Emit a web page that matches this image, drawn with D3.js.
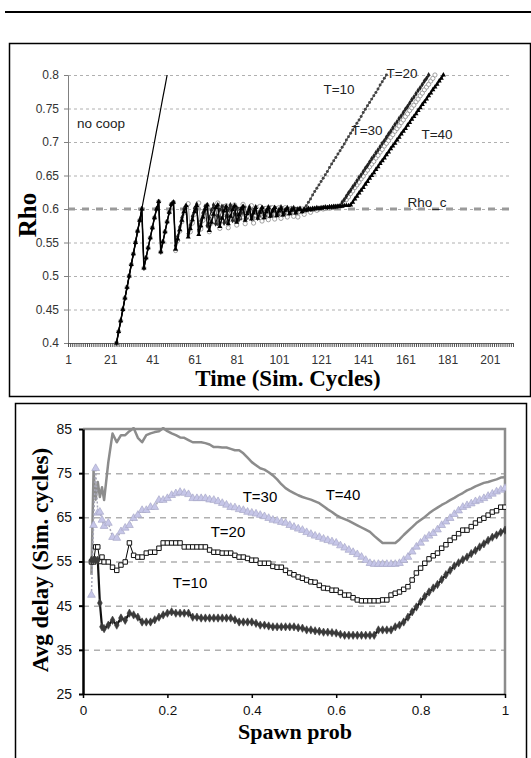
<!DOCTYPE html>
<html><head><meta charset="utf-8">
<script src="https://cdn.jsdelivr.net/npm/d3@7"></script>
<style>body{margin:0;background:#fff} svg{display:block}</style>
</head><body>
<svg id="c" width="531" height="758"></svg>
<script>
// ---------------- DATA: top chart (Rho vs Time) ----------------
const rhoTicks = [0.4,0.45,0.5,0.55,0.6,0.65,0.7,0.75,0.8];
const timeTickLabels = [1,21,41,61,81,101,121,141,161,181,201];
const timeMax = 212;
const rhoC = 0.6;
const firstCycle = 24;
// cycles 24..36 (shared by every run)
const rampShared = [0.400,0.417,0.433,0.450,0.467,0.483,0.500,0.517,0.533,0.550,0.567,0.583,0.600];
// no cooperation, cycles 37..48
const noCoopTail = [0.617,0.633,0.650,0.667,0.683,0.700,0.717,0.733,0.750,0.767,0.783,0.800];
// cooperative runs, cycles 37..51
const coopShared = [0.512,0.527,0.542,0.557,0.572,0.587,0.600,0.611,0.536,0.551,0.566,0.581,0.595,0.607,0.610];
// cycles 52..
const rhoT10Tail = [
0.541,0.556,0.570,0.584,0.597,0.606,0.560,0.572,0.585,0.597,
0.604,0.566,0.578,0.590,0.601,0.607,0.572,0.583,0.594,0.603,
0.577,0.588,0.598,0.605,0.580,0.590,0.600,0.604,0.582,0.592,
0.601,0.585,0.595,0.603,0.586,0.595,0.602,0.587,0.596,0.603,
0.589,0.597,0.602,0.589,0.597,0.603,0.590,0.598,0.602,0.591,
0.598,0.602,0.592,0.599,0.601,0.593,0.599,0.601,0.595,0.600,
0.598,0.601,0.605,0.610,0.615,0.621,0.626,0.631,0.636,0.641,
0.646,0.651,0.656,0.662,0.667,0.672,0.677,0.682,0.687,0.692,
0.697,0.703,0.708,0.713,0.718,0.723,0.728,0.733,0.738,0.744,
0.749,0.754,0.759,0.764,0.769,0.774,0.779,0.785,0.790,0.795,
0.800];
const rhoT20Tail = [
0.545,0.559,0.573,0.587,0.600,0.604,0.563,0.576,0.589,0.601,
0.607,0.569,0.582,0.594,0.604,0.575,0.587,0.598,0.606,0.578,
0.589,0.599,0.604,0.579,0.589,0.599,0.606,0.583,0.593,0.602,
0.584,0.594,0.603,0.585,0.595,0.603,0.588,0.597,0.603,0.587,
0.596,0.602,0.590,0.598,0.603,0.591,0.598,0.602,0.592,0.599,
0.603,0.593,0.599,0.602,0.594,0.600,0.602,0.595,0.600,0.601,
0.597,0.600,0.599,0.601,0.600,0.601,0.601,0.602,0.601,0.602,
0.602,0.603,0.602,0.603,0.603,0.604,0.604,0.604,0.605,0.610,
0.614,0.619,0.624,0.628,0.633,0.637,0.642,0.647,0.651,0.656,
0.661,0.665,0.670,0.675,0.679,0.684,0.688,0.693,0.698,0.702,
0.707,0.712,0.716,0.721,0.726,0.730,0.735,0.739,0.744,0.749,
0.753,0.758,0.763,0.767,0.772,0.777,0.781,0.786,0.791,0.795,
0.800];
const rhoT30Tail = [
0.538,0.553,0.567,0.581,0.594,0.603,0.608,0.566,0.579,0.592,
0.603,0.609,0.570,0.583,0.595,0.605,0.566,0.579,0.591,0.602,
0.609,0.571,0.583,0.595,0.605,0.572,0.585,0.597,0.606,0.576,
0.588,0.599,0.607,0.578,0.590,0.600,0.605,0.579,0.591,0.601,
0.604,0.582,0.593,0.601,0.584,0.594,0.602,0.585,0.595,0.602,
0.586,0.596,0.602,0.588,0.597,0.601,0.589,0.597,0.588,0.596,
0.600,0.592,0.598,0.600,0.595,0.599,0.600,0.598,0.600,0.601,
0.600,0.601,0.602,0.601,0.602,0.603,0.603,0.603,0.604,0.605,
0.609,0.614,0.618,0.623,0.627,0.632,0.636,0.640,0.645,0.649,
0.654,0.658,0.663,0.667,0.671,0.676,0.680,0.685,0.689,0.694,
0.698,0.702,0.707,0.711,0.716,0.720,0.724,0.729,0.733,0.738,
0.742,0.747,0.751,0.755,0.760,0.764,0.769,0.773,0.778,0.782,
0.786,0.791,0.795,0.800];
const rhoT40Tail = [
0.540,0.555,0.569,0.583,0.596,0.605,0.558,0.571,0.584,0.596,
0.605,0.562,0.575,0.588,0.600,0.606,0.568,0.580,0.592,0.602,
0.606,0.574,0.586,0.597,0.604,0.578,0.589,0.599,0.605,0.580,
0.591,0.600,0.604,0.583,0.593,0.601,0.585,0.594,0.602,0.586,
0.595,0.602,0.587,0.596,0.602,0.589,0.597,0.602,0.590,0.597,
0.601,0.591,0.598,0.601,0.593,0.598,0.600,0.594,0.599,0.600,
0.596,0.599,0.598,0.600,0.599,0.600,0.600,0.601,0.601,0.601,
0.602,0.602,0.602,0.603,0.603,0.603,0.603,0.604,0.604,0.604,
0.605,0.605,0.605,0.606,0.610,0.615,0.619,0.624,0.628,0.632,
0.637,0.641,0.646,0.650,0.654,0.659,0.663,0.668,0.672,0.676,
0.681,0.685,0.690,0.694,0.698,0.703,0.707,0.712,0.716,0.720,
0.725,0.729,0.734,0.738,0.742,0.747,0.751,0.756,0.760,0.764,
0.769,0.773,0.778,0.782,0.786,0.791,0.795,0.800];

// ---------------- DATA: bottom chart (Avg delay vs Spawn prob) ----------------
const delayTicks = [25,35,45,55,65,75,85];
const spawnTicks = [0,0.2,0.4,0.6,0.8,1];
const spawnProb = [
0.02,0.025,0.03,0.035,0.04,0.045,0.05,
0.06,0.07,0.08,0.09,0.10,0.11,0.12,0.13,0.14,0.15,
0.16,0.17,0.18,0.19,0.20,0.21,0.22,0.23,0.24,0.25,
0.26,0.27,0.28,0.29,0.30,0.31,0.32,0.33,0.34,0.35,
0.36,0.37,0.38,0.39,0.40,0.41,0.42,0.43,0.44,0.45,
0.46,0.47,0.48,0.49,0.50,0.51,0.52,0.53,0.54,0.55,
0.56,0.57,0.58,0.59,0.60,0.61,0.62,0.63,0.64,0.65,
0.66,0.67,0.68,0.69,0.70,0.71,0.72,0.73,0.74,0.75,
0.76,0.77,0.78,0.79,0.80,0.81,0.82,0.83,0.84,0.85,
0.86,0.87,0.88,0.89,0.90,0.91,0.92,0.93,0.94,0.95,
0.96,0.97,0.98,0.99,1.00];
const delayT10 = [
55.3,55.3,55.3,55.3,45.6,40.2,39.8,
40.6,41.7,40.6,42.2,41.7,43.3,42.9,42.4,41.3,41.3,
41.3,41.8,42.4,42.9,43.3,43.6,43.3,43.3,43.3,43.3,
42.4,42.4,42.2,42.2,42.2,42.2,42.2,42.2,42.2,42.2,
41.8,41.3,41.3,41.3,41.3,41.0,40.6,40.6,40.4,40.2,
40.2,40.2,40.2,40.2,40.2,40.0,39.9,39.5,39.5,39.3,
39.2,39.0,39.0,38.9,38.8,38.5,38.3,38.3,38.3,38.3,
38.3,38.3,38.3,38.3,39.5,39.5,39.5,39.5,40.2,40.6,
41.3,42.4,43.6,44.7,45.9,47.1,48.1,49.0,49.8,50.9,
52.0,53.0,54.0,54.7,55.4,56.0,56.8,57.5,58.3,59.0,
59.8,60.5,61.0,61.6,62.1];
const delayT20 = [
54.9,54.9,58.3,58.3,55.0,56.0,54.9,
54.9,53.7,53.0,54.2,54.9,59.2,56.4,56.0,56.0,56.9,
57.1,57.1,58.0,59.2,59.2,59.2,59.2,59.2,58.3,58.3,
58.3,58.3,58.3,58.3,57.6,57.1,57.1,56.9,56.9,56.9,
56.4,56.0,56.0,55.7,55.3,55.3,54.6,54.6,54.6,53.9,
53.7,53.7,53.0,52.4,52.0,51.5,51.2,50.8,50.4,50.3,
49.6,49.0,48.9,48.5,48.5,48.0,47.4,47.4,46.8,46.3,
46.1,46.1,46.1,46.1,46.1,46.3,46.3,47.4,47.8,48.1,
48.7,49.3,50.8,52.4,53.5,54.6,55.6,56.3,56.9,58.0,
58.8,59.8,60.4,61.3,62.1,62.1,62.9,63.7,64.4,64.8,
65.5,66.2,66.5,67.3,67.3];
const delayT30 = [
47.4,63.2,76.1,66.0,66.2,64.4,63.0,
63.7,60.5,60.3,61.8,62.6,63.2,64.8,65.5,66.6,66.6,
67.3,67.3,68.9,68.9,69.3,70.0,70.4,70.7,70.5,70.2,
69.3,69.3,69.3,69.3,69.0,68.9,68.6,68.2,67.8,67.3,
67.2,66.8,66.6,66.2,66.0,65.8,65.5,65.2,64.8,64.4,
64.2,63.9,63.7,63.2,62.8,62.4,62.1,61.6,61.2,60.8,
60.5,60.1,59.8,59.5,59.2,58.6,58.1,57.6,57.1,56.6,
56.0,55.3,54.6,54.4,54.4,54.4,54.4,54.4,54.4,54.6,
55.3,56.0,57.2,58.3,59.2,60.1,60.8,61.4,62.2,63.2,
64.0,64.8,65.7,66.5,67.3,67.7,68.1,68.6,68.9,69.3,
69.8,70.3,70.8,71.2,71.6];
const delayT40 = [
52.0,75.5,69.0,73.0,69.6,71.8,68.9,
77.5,84.0,82.0,83.6,83.6,84.5,85.2,83.0,82.0,83.6,
84.0,84.3,84.5,85.2,84.5,84.0,83.6,83.1,83.0,82.5,
82.0,82.0,82.0,81.8,81.5,80.9,80.9,80.8,80.8,80.5,
80.2,80.2,79.5,78.5,77.5,76.8,76.1,75.8,75.2,74.5,
73.6,72.5,71.6,71.0,70.5,70.0,69.6,69.3,69.0,68.6,
68.2,67.5,66.8,66.2,65.5,65.0,64.6,64.2,63.7,63.2,
62.7,62.2,61.7,60.8,60.0,59.2,59.2,59.2,59.2,60.0,
61.0,61.9,62.8,63.7,64.4,65.1,65.9,66.6,67.2,67.8,
68.3,68.9,69.4,70.0,70.5,71.1,71.5,72.0,72.4,72.8,
73.0,73.3,73.6,74.0,74.1];

// ---------------- DRAWING ----------------
const SANS = "'Liberation Sans', Arial, sans-serif";
const SERIF = "'Liberation Serif', 'Times New Roman', serif";
const svg = d3.select('#c');

svg.append('line').attr('x1',5).attr('x2',531).attr('y1',12).attr('y2',12)
  .attr('stroke','#000').attr('stroke-width',2);

// ===== top chart =====
svg.append('rect').attr('x',9.5).attr('y',43.5).attr('width',521).attr('height',353)
  .attr('fill','#fff').attr('stroke','#000').attr('stroke-width',1.5);

const tx = d3.scaleLinear().domain([1,timeMax]).range([68,513]);
const ty = d3.scaleLinear().domain([0.4,0.8]).range([343,75]);
const gT = svg.append('g');

// grid
gT.append('g').attr('transform','translate(68,0)')
  .call(d3.axisLeft(ty).tickValues(rhoTicks.slice(1)).tickSize(-444).tickFormat(''))
  .call(g=>{g.select('.domain').remove();
    g.selectAll('line').attr('stroke','#b0b0b0').attr('stroke-dasharray','3,3');});
// Rho_c
gT.append('line').attr('x1',tx(1)).attr('x2',tx(timeMax)).attr('y1',ty(rhoC)).attr('y2',ty(rhoC))
  .attr('stroke','#9a9a9a').attr('stroke-width',3).attr('stroke-dasharray','7,7');

// axes
gT.append('g').attr('transform','translate(68,0)')
  .call(d3.axisLeft(ty).tickValues(rhoTicks).tickSize(4).tickSizeOuter(0).tickPadding(5)
    .tickFormat(d=>String(+d.toFixed(2))))
  .call(g=>{g.select('.domain').attr('stroke','#808080');
    g.selectAll('line').attr('stroke','#808080');
    g.selectAll('text').attr('font-family',SANS).attr('font-size',12).attr('fill','#333');});
gT.append('g').attr('transform','translate(0,343)')
  .call(d3.axisBottom(tx).tickValues(d3.range(1,timeMax+1)).tickSize(4).tickSizeOuter(0).tickFormat(''))
  .call(g=>{g.select('.domain').attr('stroke','#606060');
    g.selectAll('line').attr('stroke','#505050');});
gT.append('g').attr('transform','translate(0,343)')
  .call(d3.axisBottom(tx).tickValues(timeTickLabels).tickSize(0).tickSizeOuter(0).tickPadding(12))
  .call(g=>{g.select('.domain').remove();
    g.selectAll('text').attr('font-family',SANS).attr('font-size',12).attr('fill','#333');});

const toPts = arr => arr.map((v,i)=>({t:firstCycle+i, v}));
const topSeries = [
  {name:'T=10', vals: rampShared.concat(coopShared, rhoT10Tail), stroke:'#555', sw:1,
   sym:d3.symbolCircle, size:7, fill:'#444', mstroke:'none'},
  {name:'T=30', vals: rampShared.concat(coopShared, rhoT30Tail), stroke:'#a8a8a8', sw:1,
   sym:d3.symbolCircle, size:14, fill:'#fff', mstroke:'#8a8a8a'},
  {name:'T=20', vals: rampShared.concat(coopShared, rhoT20Tail), stroke:'#1a1a1a', sw:1.1,
   sym:d3.symbolDiamond, size:10, fill:'#222', mstroke:'none'},
  {name:'T=40', vals: rampShared.concat(coopShared, rhoT40Tail), stroke:'#000', sw:1.5,
   sym:d3.symbolTriangle, size:11, fill:'#000', mstroke:'none'},
];
const tLine = d3.line().x(d=>tx(d.t)).y(d=>ty(d.v));
topSeries.forEach(s=>{
  const pts = toPts(s.vals);
  gT.append('path').datum(pts).attr('d',tLine).attr('fill','none')
    .attr('stroke',s.stroke).attr('stroke-width',s.sw);
  gT.append('g').selectAll('path').data(pts).join('path')
    .attr('transform',d=>`translate(${tx(d.t)},${ty(d.v)})`)
    .attr('d',d3.symbol().type(s.sym).size(s.size))
    .attr('fill',s.fill).attr('stroke',s.mstroke).attr('stroke-width',0.8);
});
gT.append('path').datum(toPts(rampShared.concat(noCoopTail))).attr('d',tLine)
  .attr('fill','none').attr('stroke','#000').attr('stroke-width',1.2);

const topLabels = [['no coop',101,123],['T=10',339,89],['T=20',402,73],['T=30',367,130],['T=40',437,134],['Rho_c',427,202]];
gT.selectAll('text.lab').data(topLabels).join('text').attr('class','lab')
  .attr('x',d=>d[1]).attr('y',d=>d[2]).text(d=>d[0])
  .attr('text-anchor','middle').attr('dominant-baseline','central')
  .attr('font-family',SANS).attr('font-size',13.5).attr('fill','#222');

gT.append('text').text('Rho').attr('transform','translate(27,215) rotate(-90)')
  .attr('text-anchor','middle').attr('dominant-baseline','central')
  .attr('font-family',SERIF).attr('font-weight','bold').attr('font-size',25);
gT.append('text').text('Time (Sim. Cycles)').attr('x',288).attr('y',378)
  .attr('text-anchor','middle').attr('dominant-baseline','central')
  .attr('font-family',SERIF).attr('font-weight','bold').attr('font-size',23);

// ===== bottom chart =====
svg.append('rect').attr('x',15.5).attr('y',403.5).attr('width',511).attr('height',400)
  .attr('fill','#fff').attr('stroke','#000').attr('stroke-width',1.5);

const bx = d3.scaleLinear().domain([0,1]).range([83,505]);
const by = d3.scaleLinear().domain([25,85]).range([694,429]);
const gB = svg.append('g');

gB.append('g').attr('transform','translate(83,0)')
  .call(d3.axisLeft(by).tickValues(delayTicks.slice(1,-1)).tickSize(-422).tickFormat(''))
  .call(g=>{g.select('.domain').remove();
    g.selectAll('line').attr('stroke','#b0b0b0').attr('stroke-width',1.5).attr('stroke-dasharray','6,5');});
// plot border top/right
gB.append('path').attr('d',`M${bx(0)},${by(85)}H${bx(1)}V${by(25)}`)
  .attr('fill','none').attr('stroke','#8c8c8c').attr('stroke-width',2.5);

gB.append('defs').append('clipPath').attr('id','bclip').append('rect')
  .attr('x',83).attr('y',by(85)-2).attr('width',423).attr('height',by(25)-by(85)+2);
const gS = gB.append('g').attr('clip-path','url(#bclip)');
const bPts = vals => vals.map((v,i)=>({p:spawnProb[i], v}));
const bLine = d3.line().x(d=>bx(d.p)).y(d=>by(d.v));

gS.append('path').datum(bPts(delayT40)).attr('d',bLine).attr('fill','none')
  .attr('stroke','#8c8c8c').attr('stroke-width',2.5).attr('stroke-linejoin','round');

gS.append('path').datum(bPts(delayT30)).attr('d',bLine).attr('fill','none')
  .attr('stroke','#a8a8b8').attr('stroke-width',1.5).attr('stroke-dasharray','2,2');
gS.append('g').selectAll('path').data(bPts(delayT30)).join('path')
  .attr('transform',d=>`translate(${bx(d.p)},${by(d.v)})`)
  .attr('d',d3.symbol().type(d3.symbolTriangle).size(26))
  .attr('fill','#c6c6e8').attr('stroke','#a9a9c9').attr('stroke-width',0.7);

gS.append('path').datum(bPts(delayT20)).attr('d',bLine).attr('fill','none')
  .attr('stroke','#000').attr('stroke-width',1);
gS.append('g').selectAll('path').data(bPts(delayT20)).join('path')
  .attr('transform',d=>`translate(${bx(d.p)},${by(d.v)})`)
  .attr('d',d3.symbol().type(d3.symbolSquare).size(20))
  .attr('fill','#fff').attr('stroke','#111').attr('stroke-width',1);

gS.append('path').datum(bPts(delayT10)).attr('d',bLine).attr('fill','none')
  .attr('stroke','#111').attr('stroke-width',2.2);
gS.append('g').selectAll('path').data(bPts(delayT10)).join('path')
  .attr('transform',d=>`translate(${bx(d.p)},${by(d.v)})`)
  .attr('d',d3.symbol().type(d3.symbolDiamond).size(20))
  .attr('fill','#3a3a3a').attr('stroke','#3a3a3a').attr('stroke-width',0.6);

gB.append('g').attr('transform','translate(83,0)')
  .call(d3.axisLeft(by).tickValues(delayTicks).tickSize(4).tickSizeOuter(0).tickPadding(7))
  .call(g=>{g.select('.domain').attr('stroke','#000').attr('stroke-width',2.5);
    g.selectAll('line').attr('stroke','#000').attr('stroke-width',2);
    g.selectAll('text').attr('font-family',SANS).attr('font-size',14).attr('fill','#111');});
gB.append('g').attr('transform',`translate(0,${by(25)})`)
  .call(d3.axisBottom(bx).tickValues(spawnTicks).tickSize(4).tickSizeOuter(0).tickPadding(7)
    .tickFormat(d=>String(d)))
  .call(g=>{g.select('.domain').attr('stroke','#000').attr('stroke-width',1.5);
    g.selectAll('line').attr('stroke','#000').attr('stroke-width',1.5);
    g.selectAll('text').attr('font-family',SANS).attr('font-size',13.5).attr('fill','#111');});

const botLabels = [['T=40',343,494],['T=30',260,496],['T=20',228,531],['T=10',190,582]];
gB.selectAll('text.lab').data(botLabels).join('text').attr('class','lab')
  .attr('x',d=>d[1]).attr('y',d=>d[2]).text(d=>d[0])
  .attr('text-anchor','middle').attr('dominant-baseline','central')
  .attr('font-family',SANS).attr('font-size',15).attr('fill','#000');

gB.append('text').text('Avg delay (Sim. cycles)').attr('transform','translate(40,560) rotate(-90)')
  .attr('text-anchor','middle').attr('dominant-baseline','central')
  .attr('font-family',SERIF).attr('font-weight','bold').attr('font-size',23);
gB.append('text').text('Spawn prob').attr('x',295).attr('y',739)
  .attr('text-anchor','middle')
  .attr('font-family',SERIF).attr('font-weight','bold').attr('font-size',22);
</script>
</body></html>
